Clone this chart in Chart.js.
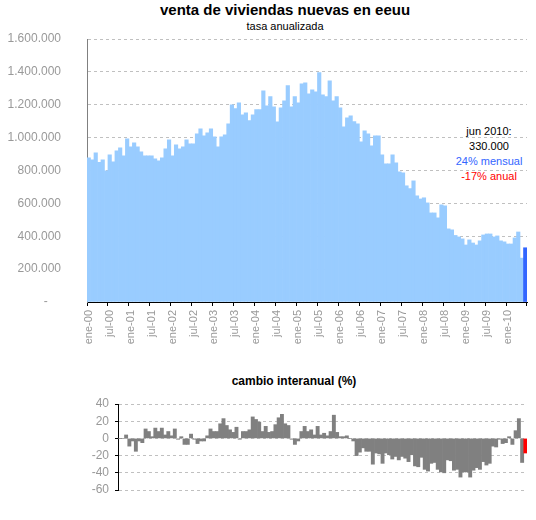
<!DOCTYPE html>
<html>
<head>
<meta charset="utf-8">
<script src="https://cdn.jsdelivr.net/npm/chart.js@4.4.1/dist/chart.umd.min.js"></script>
<style>
  html, body { margin: 0; padding: 0; background: #fff; }
  body { width: 536px; height: 520px; position: relative; overflow: hidden;
         font-family: "Liberation Sans", Arial, sans-serif; }
  .txt { position: absolute; white-space: nowrap; transform: translateX(-50%); text-align: center; }
  #top-wrap { position: absolute; left: 0; top: 0; width: 536px; height: 360px; }
  #bottom-wrap { position: absolute; left: 0; top: 360px; width: 536px; height: 160px; }
</style>
</head>
<body>

<div class="txt" style="left:285px;top:1px;font-size:15px;font-weight:bold;line-height:18px;color:#000;">venta de viviendas nuevas en eeuu</div>
<div class="txt" style="left:285px;top:19px;font-size:11px;line-height:14px;color:#000;">tasa anualizada</div>

<div class="txt" style="left:489px;top:124px;font-size:11px;line-height:15px;">
  <div style="color:#000;">jun 2010:</div>
  <div style="color:#000;">330.000</div>
  <div style="color:#3366ff;">24% mensual</div>
  <div style="color:#ff0000;">-17% anual</div>
</div>

<div class="txt" style="left:294px;top:374px;font-size:12px;font-weight:bold;line-height:14px;color:#000;">cambio interanual (%)</div>

<div id="top-wrap"><canvas id="ventas-chart" width="536" height="360"></canvas></div>
<div id="bottom-wrap"><canvas id="cambio-chart" width="536" height="160"></canvas></div>

<script>
// ============================================
// Ventas de viviendas nuevas — datos
// ============================================

const meses = ['ene', 'feb', 'mar', 'abr', 'may', 'jun', 'jul', 'ago', 'sep', 'oct', 'nov', 'dic'];
const anios = ['00', '01', '02', '03', '04', '05', '06', '07', '08', '09', '10'];

// miles de viviendas, tasa anualizada (ene-00 .. jun-10)
const ventas = [
  877, 865, 908, 850, 865, 798, 895, 853, 920, 938, 889, 993,
  944, 968, 944, 914, 889, 889, 889, 871, 859, 877, 932, 987,
  889, 956, 932, 944, 987, 962, 962, 1023, 1054, 1011, 1029, 1054,
  1005, 944, 1005, 1017, 1084, 1200, 1176, 1212, 1139, 1151, 1103, 1139,
  1170, 1170, 1285, 1194, 1249, 1188, 1096, 1182, 1224, 1316, 1188, 1249,
  1212, 1328, 1334, 1267, 1291, 1279, 1395, 1261, 1249, 1346, 1224, 1249,
  1182, 1066, 1121, 1133, 1097, 1084, 975, 1042, 1023, 950, 1011, 1011,
  895, 841, 841, 895, 847, 792, 786, 707, 690, 737, 646, 627,
  634, 603, 542, 542, 512, 591, 585, 445, 439, 405, 396, 384,
  347, 378, 359, 347, 372, 408, 414, 414, 396, 402, 372, 366,
  353, 353, 390, 426, 267, 330
];

// cambio interanual (%)
const cambio = [
  0, 0, 4, -9, -3, -15, -3, -5, 11, 8, 2, 12,
  8, 12, 4, 8, 3, 11, -1, 2, -7, -7, 5, -1,
  -6, -3, -3, 3, 11, 8, 8, 17, 23, 15, 10, 7,
  13, -1, 8, 8, 10, 25, 22, 19, 8, 14, 7, 8,
  16, 24, 28, 17, 15, -1, -7, -3, 8, 14, 8, 10,
  4, 14, 4, 6, 3, 8, 27, 7, 2, 2, 3, 0,
  -3, -20, -16, -11, -15, -15, -30, -17, -18, -29, -17, -19,
  -24, -21, -25, -21, -23, -27, -19, -32, -33, -22, -36, -38,
  -29, -28, -36, -39, -40, -25, -26, -37, -36, -45, -39, -39,
  -45, -37, -34, -36, -27, -31, -29, -9, -10, -1, -6, -5,
  2, -7, 9, 23, -28, -17
];

const yTicksVentas = [0, 200, 400, 600, 800, 1000, 1200, 1400, 1600];
const yTicksCambio = [-60, -40, -20, 0, 20, 40];

const categorias = [];
anios.forEach(a => meses.forEach(m => categorias.push(`${m}-${a}`)));
categorias.length = ventas.length;

// ============================================
// Gráficos
// ============================================

const FONT = '"Liberation Sans", Arial, sans-serif';
const GRAY_TXT = '#999999';
const GRID = '#c0c0c0';

function formatMiles(v) {
  if (v === 0) return '-    ';
  return (v * 1000).toString().replace(/\B(?=(\d{3})+(?!\d))/g, '.');
}

const lastIdx = ventas.length - 1;

new Chart(document.getElementById('ventas-chart'), {
  type: 'bar',
  data: {
    labels: categorias,
    datasets: [{
      data: ventas,
      backgroundColor: ventas.map((_, i) => i === lastIdx ? '#3366ff' : '#99ccff'),
      borderWidth: 0,
      barPercentage: 1,
      categoryPercentage: 1
    }]
  },
  options: {
    responsive: false, animation: false, devicePixelRatio: 1,
    layout: { padding: { top: 39, right: 9, left: 0, bottom: 0 } },
    plugins: { legend: { display: false }, tooltip: { enabled: false } },
    scales: {
      x: {
        afterFit: s => { s.height = 58; s.paddingLeft = 0; s.paddingRight = 0; },
        grid: {
          display: true, drawOnChartArea: false, drawTicks: true, tickLength: 4,
          tickColor: ctx => (ctx.index === undefined || ctx.index % 6 === 0) ? '#000' : 'rgba(0,0,0,0)'
        },
        border: { display: true, color: '#000', width: 1 },
        ticks: {
          autoSkip: false, minRotation: 90, maxRotation: 90, padding: 4,
          color: GRAY_TXT, font: { family: FONT, size: 11 },
          callback: (v, i) => i % 6 === 0 ? categorias[i] : ''
        }
      },
      y: {
        min: 0, max: 1600,
        afterFit: s => { s.width = 87; s.paddingTop = 0; s.paddingBottom = 0; },
        afterBuildTicks: s => { s.ticks = yTicksVentas.map(v => ({ value: v })); },
        grid: { color: ctx => ctx.tick && ctx.tick.value === 0 ? 'rgba(0,0,0,0)' : GRID, drawTicks: false },
        border: { display: true, color: '#808080', width: 1, dash: [3, 3] },
        ticks: {
          autoSkip: false, padding: 26, color: GRAY_TXT, font: { family: FONT, size: 12 },
          callback: v => formatMiles(v)
        }
      }
    }
  }
});

new Chart(document.getElementById('cambio-chart'), {
  type: 'bar',
  data: {
    labels: categorias,
    datasets: [{
      data: cambio,
      backgroundColor: cambio.map((_, i) => i === lastIdx ? '#ff0000' : '#808080'),
      borderWidth: 0,
      barPercentage: 1,
      categoryPercentage: 1
    }]
  },
  options: {
    responsive: false, animation: false, devicePixelRatio: 1,
    layout: { padding: { top: 44, right: 9, left: 0, bottom: 30 } },
    plugins: { legend: { display: false }, tooltip: { enabled: false } },
    scales: {
      x: { display: false },
      y: {
        min: -60, max: 40,
        afterFit: s => { s.width = 118; s.paddingTop = 0; s.paddingBottom = 0; },
        afterBuildTicks: s => { s.ticks = yTicksCambio.map(v => ({ value: v })); },
        grid: { color: GRID, drawTicks: true, tickLength: 3, tickColor: '#000', tickBorderDash: [] },
        border: { display: true, color: '#000', width: 1, dash: [3, 3] },
        ticks: { autoSkip: false, padding: 6, color: GRAY_TXT, font: { family: FONT, size: 12 } }
      }
    }
  }
});
</script>
</body>
</html>
